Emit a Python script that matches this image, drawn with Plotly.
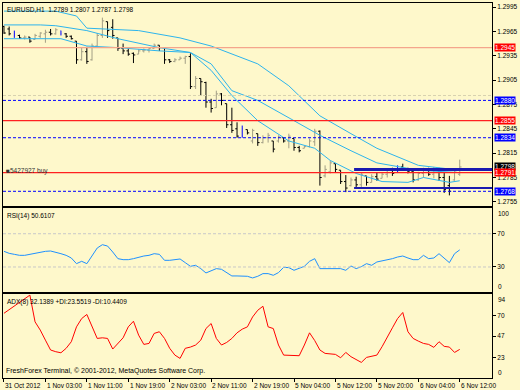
import plotly.graph_objects as go

# ---------------- data ----------------
bar_index = list(range(89))
opens = [1.2971,1.2968,1.2962,1.2960,1.2957,1.2958,1.2955,1.2959,1.2962,1.2964,
         1.2962,1.2966,1.2962,1.2959,1.2953,1.2930,1.2940,1.2930,1.2947,1.2960,
         1.2977,1.2970,1.2957,1.2944,1.2941,1.2938,1.2937,1.2941,1.2942,1.2944,
         1.2948,1.2945,1.2930,1.2928,1.2930,1.2932,1.2934,1.2897,1.2907,1.2902,
         1.2878,1.2871,1.2888,1.2876,1.2850,1.2845,1.2836,1.2844,1.2830,1.2839,
         1.2828,1.2834,1.2830,1.2830,1.2834,1.2830,1.2833,1.2822,1.2821,1.2823,
         1.2829,1.2842,1.2787,1.2792,1.2802,1.2794,1.2780,1.2775,1.2782,1.2776,
         1.2787,1.2779,1.2786,1.2784,1.2789,1.2794,1.2791,1.2798,1.2796,1.2792,
         1.2782,1.2790,1.2795,1.2789,1.2796,1.2785,1.2775,1.2782,1.2789]
highs = [1.2972,1.2971,1.2966,1.2961,1.2960,1.2958,1.2962,1.2964,1.2967,1.2968,
         1.2969,1.2966,1.2963,1.2960,1.2953,1.2945,1.2946,1.2950,1.2963,1.2982,
         1.2977,1.2980,1.2957,1.2950,1.2945,1.2939,1.2943,1.2944,1.2945,1.2950,
         1.2948,1.2945,1.2931,1.2932,1.2934,1.2935,1.2938,1.2910,1.2907,1.2903,
         1.2882,1.2892,1.2889,1.2876,1.2871,1.2853,1.2849,1.2844,1.2845,1.2839,
         1.2837,1.2840,1.2830,1.2837,1.2834,1.2839,1.2833,1.2824,1.2824,1.2833,
         1.2845,1.2843,1.2800,1.2806,1.2802,1.2794,1.2788,1.2785,1.2786,1.2791,
         1.2787,1.2789,1.2791,1.2791,1.2796,1.2797,1.2800,1.2802,1.2797,1.2794,
         1.2792,1.2797,1.2797,1.2798,1.2797,1.2791,1.2787,1.2796,1.2807]
lows = [1.2962,1.2960,1.2957,1.2956,1.2955,1.2951,1.2955,1.2957,1.2951,1.2960,
        1.2961,1.2960,1.2957,1.2955,1.2925,1.2929,1.2925,1.2929,1.2947,1.2957,
        1.2957,1.2956,1.2941,1.2937,1.2935,1.2926,1.2937,1.2939,1.2939,1.2944,
        1.2941,1.2925,1.2926,1.2927,1.2930,1.2925,1.2894,1.2894,1.2886,1.2871,
        1.2865,1.2871,1.2874,1.2846,1.2840,1.2834,1.2834,1.2838,1.2827,1.2824,
        1.2827,1.2828,1.2816,1.2828,1.2828,1.2821,1.2818,1.2816,1.2821,1.2822,
        1.2824,1.2775,1.2785,1.2790,1.2791,1.2777,1.2767,1.2774,1.2773,1.2773,
        1.2775,1.2779,1.2781,1.2784,1.2785,1.2787,1.2791,1.2794,1.2790,1.2779,
        1.2781,1.2785,1.2787,1.2784,1.2781,1.2766,1.2763,1.2781,1.2787]
closes = [1.2963,1.2962,1.2960,1.2957,1.2958,1.2953,1.2960,1.2963,1.2964,1.2962,
          1.2967,1.2962,1.2959,1.2956,1.2930,1.2940,1.2928,1.2947,1.2960,1.2978,
          1.2966,1.2960,1.2944,1.2941,1.2937,1.2936,1.2941,1.2942,1.2944,1.2948,
          1.2945,1.2930,1.2928,1.2930,1.2932,1.2934,1.2897,1.2907,1.2903,1.2878,
          1.2870,1.2888,1.2880,1.2850,1.2843,1.2836,1.2845,1.2840,1.2843,1.2828,
          1.2834,1.2837,1.2820,1.2835,1.2830,1.2836,1.2822,1.2818,1.2823,1.2830,
          1.2842,1.2785,1.2795,1.2803,1.2795,1.2780,1.2772,1.2782,1.2776,1.2789,
          1.2779,1.2786,1.2783,1.2789,1.2794,1.2790,1.2798,1.2796,1.2792,1.2782,
          1.2790,1.2795,1.2789,1.2796,1.2785,1.2770,1.2768,1.2793,1.2798]
blue_bars = [2, 11, 46, 76]

upper_idx = [0, 10, 14, 16, 26, 34, 40, 45, 49, 55, 61, 67, 72, 80, 88]
upper_val = [1.2990,1.2990,1.2984,1.2969,1.2966,1.2957,1.2947,1.2935,1.2925,1.2898,
             1.2861,1.2839,1.2821,1.2800,1.2794]
middle_idx = [0, 7, 10, 16, 22, 30, 36, 40, 44, 49, 56, 61, 67, 72, 80, 88]
middle_val = [1.2973,1.2973,1.2972,1.2966,1.2956,1.2945,1.2939,1.2925,1.2892,1.2880,
              1.2855,1.2837,1.2818,1.2803,1.2794,1.2791]
lower_idx = [0, 11, 16, 22, 30, 36, 40, 44, 49, 55, 60, 63, 68, 73, 78, 81, 86, 88]
lower_val = [1.2956,1.2956,1.2947,1.2945,1.2941,1.2939,1.2917,1.2886,1.2855,1.2830,
             1.2821,1.2806,1.2790,1.2780,1.2779,1.2785,1.2779,1.2781]

rsi = [48.8,46.4,45.2,44.0,44.0,45.2,47.2,47.6,48.8,49.2,
       48.0,46.0,44.0,40.8,34.0,36.8,34.0,44.0,52.8,56.8,
       55.2,48.0,40.0,38.8,38.8,40.0,42.0,43.2,44.0,46.0,
       45.2,38.0,38.0,39.2,39.6,35.2,30.8,32.0,28.0,22.8,
       25.2,28.0,27.2,23.2,19.2,19.2,19.2,18.8,16.8,18.8,
       22.0,22.0,20.0,23.2,29.6,29.2,26.0,28.8,30.8,36.8,
       40.0,28.0,28.0,28.8,28.8,28.0,26.0,31.2,28.0,30.4,
       34.0,32.0,36.0,37.2,38.0,40.0,42.0,43.2,40.8,38.8,
       38.8,44.0,40.0,40.8,46.0,40.0,35.2,46.0,50.6]

adx = [72.6,76.7,80.5,84.6,88.4,93.0,63.0,53.8,42.5,31.4,
       29.5,28.3,33.3,40.7,57.4,66.7,71.3,57.4,44.4,45.1,
       44.4,32.5,38.8,45.1,57.4,63.7,48.1,37.7,38.8,50.0,
       51.9,44.4,33.3,25.7,22.0,33.3,34.7,37.0,42.5,55.5,
       61.1,44.4,37.0,39.9,44.4,50.7,54.8,57.4,68.5,76.0,
       80.5,57.4,55.5,37.0,25.7,25.7,25.7,25.0,37.0,50.7,
       42.0,31.4,27.6,26.8,26.5,22.7,28.7,23.9,20.2,17.5,
       23.1,24.2,25.7,35.1,46.3,56.3,66.7,73.5,51.9,44.4,
       41.4,38.8,37.7,34.4,40.7,35.5,34.7,28.7,32.1]

time_tick_idx = [0, 8, 16, 24, 32, 40, 48, 56, 64, 72, 80, 88]
time_tick_text = ["31 Oct 2012", "1 Nov 03:00", "1 Nov 11:00", "1 Nov 19:00",
                  "2 Nov 03:00", "2 Nov 11:00", "2 Nov 19:00", "5 Nov 04:00",
                  "5 Nov 12:00", "5 Nov 20:00", "6 Nov 04:00", "6 Nov 12:00"]
price_ticks = [1.2995, 1.2965, 1.2935, 1.2905, 1.2875, 1.2845, 1.2815, 1.2785, 1.2755]

# horizontal levels (full width)
level_prices = [1.2945, 1.2886, 1.2880, 1.2855, 1.2834, 1.2791, 1.2768]
level_colors = ["#F4A58C", "#D8D2B0", "#0000FF", "#FF2020", "#0000FF", "#FF2020", "#0000FF"]
level_dash = ["solid", "3px,2px", "3px,2px", "solid", "3px,2px", "solid", "3px,2px"]
# short levels (from bar 68 to right edge)
short_prices = [1.2795, 1.2772]
short_widths = [3, 2]
# price boxes on right axis
box_prices = [1.2945, 1.2880, 1.2855, 1.2834, 1.2798, 1.2791, 1.2768]
box_colors = ["#FF0000", "#0000FF", "#FF0000", "#0000FF", "#000000", "#FF0000", "#0000FF"]

rsi_levels = [70, 30]
rsi_ticks = [70, 30]
rsi_edge_labels = ["100", "0"]
adx_ticks = [70, 47, 23]
adx_edge_labels = ["94", "0"]

BG = "#FEF8CB"
FONT = "Liberation Sans"
CYAN = "#2DB4EC"
X_RANGE = [-0.19, 94.23]

fig = go.Figure()
norm = [i for i in bar_index if i not in blue_bars]
for sel, up_c, dn_c in [(norm, "#A39F86", "#000000"), (blue_bars, "#0000FF", "#0000FF")]:
    fig.add_trace(go.Ohlc(x=sel, open=[opens[i] for i in sel], high=[highs[i] for i in sel],
                          low=[lows[i] for i in sel], close=[closes[i] for i in sel],
                          increasing=dict(line=dict(color=up_c, width=1)),
                          decreasing=dict(line=dict(color=dn_c, width=1)),
                          tickwidth=0.35 if sel is norm else 0.04,
                          xaxis="x", yaxis="y", hoverinfo="skip", showlegend=False))
for xi, yv in [(upper_idx, upper_val), (middle_idx, middle_val), (lower_idx, lower_val)]:
    fig.add_trace(go.Scatter(x=xi, y=yv, mode="lines", line=dict(color=CYAN, width=1),
                             xaxis="x", yaxis="y", hoverinfo="skip", showlegend=False))
fig.add_trace(go.Scatter(x=bar_index, y=rsi, mode="lines", line=dict(color="#1E90FF", width=1),
                         xaxis="x2", yaxis="y2", hoverinfo="skip", showlegend=False))
fig.add_trace(go.Scatter(x=bar_index, y=adx, mode="lines", line=dict(color="#FF0000", width=1),
                         xaxis="x3", yaxis="y3", hoverinfo="skip", showlegend=False))

shapes = []
for p, c, d in zip(level_prices, level_colors, level_dash):
    shapes.append(dict(type="line", xref="x domain", yref="y", x0=0, x1=1, y0=p, y1=p,
                       line=dict(color=c, width=1.2 if d == "solid" else 1, dash=d)))
for p, w in zip(short_prices, short_widths):
    shapes.append(dict(type="line", xref="x", yref="y", x0=67.6, x1=X_RANGE[1], y0=p, y1=p,
                       line=dict(color="#1A1AB0", width=w)))
for lv in rsi_levels:
    shapes.append(dict(type="line", xref="x2 domain", yref="y2", x0=0, x1=1, y0=lv, y1=lv,
                       line=dict(color="#C8C8C8", width=1, dash="3px,2px")))

small = dict(family=FONT, size=6.5, color="#000000")
ann = []
ann.append(dict(text="EURUSD,H1  1.2789 1.2807 1.2787 1.2798", xref="paper", yref="paper",
                x=0.004, y=0.998, xanchor="left", yanchor="top", showarrow=False, font=small))
ann.append(dict(text="■5427927 buy", xref="paper", yref="y", x=0.002, y=1.27935,
                xanchor="left", yanchor="middle", showarrow=False,
                font=dict(family=FONT, size=6.5, color="#333333")))
ann.append(dict(text="RSI(14) 50.6107", xref="paper", yref="y2 domain", x=0.004, y=0.98,
                xanchor="left", yanchor="top", showarrow=False, font=small))
ann.append(dict(text="ADX(8) 32.1389 +DI:23.5519 -DI:10.4409", xref="paper", yref="y3 domain",
                x=0.004, y=0.98, xanchor="left", yanchor="top", showarrow=False, font=small))
ann.append(dict(text="FreshForex Terminal, © 2001-2012, MetaQuotes Software Corp.",
                xref="paper", yref="y3 domain", x=0.002, y=0.01, xanchor="left",
                yanchor="bottom", showarrow=False,
                font=dict(family=FONT, size=7, color="#000000")))
# top / bottom scale labels of the indicator windows
for yref, (top_t, bot_t) in [("y2 domain", rsi_edge_labels), ("y3 domain", adx_edge_labels)]:
    ann.append(dict(text=top_t, xref="paper", yref=yref, x=1.008, y=1.0, xanchor="left",
                    yanchor="top", showarrow=False, font=small))
    ann.append(dict(text=bot_t, xref="paper", yref=yref, x=1.008, y=0.0, xanchor="left",
                    yanchor="bottom", showarrow=False, font=small))
for ti, tt in zip(time_tick_idx, time_tick_text):
    ann.append(dict(text=tt, xref="x3", yref="paper", x=ti - 0.15, y=-0.004,
                    xanchor="left", yanchor="top", showarrow=False, font=small))
for p, c in zip(box_prices, box_colors):
    ann.append(dict(text=f"{p:.4f}", xref="paper", yref="y", x=1.004, y=p,
                    xanchor="left", yanchor="middle", showarrow=False, bgcolor=c,
                    borderpad=0, font=dict(family=FONT, size=6.5, color="#FFFFFF")))

axis_common = dict(showgrid=False, zeroline=False, showline=True, mirror=True,
                   linecolor="#000000", linewidth=1)

fig.update_layout(
    width=520, height=390,
    margin=dict(l=3, r=26, t=2, b=12),
    paper_bgcolor=BG, plot_bgcolor=BG,
    showlegend=False,
    shapes=shapes, annotations=ann,
    xaxis=dict(domain=[0, 1], range=X_RANGE, anchor="y", showticklabels=False,
               rangeslider=dict(visible=False), ticks="", **axis_common),
    xaxis2=dict(domain=[0, 1], range=X_RANGE, anchor="y2", showticklabels=False,
                ticks="", matches="x", **axis_common),
    xaxis3=dict(domain=[0, 1], range=X_RANGE, anchor="y3", showticklabels=False,
                tickvals=time_tick_idx, ticks="outside", ticklen=3, tickcolor="#000000",
                matches="x", **axis_common),
    yaxis=dict(domain=[0.4574, 1.0], range=[1.27493, 1.30000], side="right",
               tickvals=price_ticks, ticktext=[f"{v:.4f}" for v in price_ticks],
               ticks="outside", ticklen=3, tickcolor="#000000", tickfont=small,
               **axis_common),
    yaxis2=dict(domain=[0.2287, 0.4521], range=[-0.4, 100.4], side="right",
                tickvals=rsi_ticks, ticktext=[str(v) for v in rsi_ticks],
                ticks="outside", ticklen=3, tickcolor="#000000", tickfont=small,
                **axis_common),
    yaxis3=dict(domain=[0.0, 0.2234], range=[0, 94], side="right",
                tickvals=adx_ticks, ticktext=[str(v) for v in adx_ticks],
                ticks="outside", ticklen=3, tickcolor="#000000", tickfont=small,
                **axis_common),
)

fig.write_html("out.html", config={"displayModeBar": False},
               post_script="document.body.style.margin='0px';")
